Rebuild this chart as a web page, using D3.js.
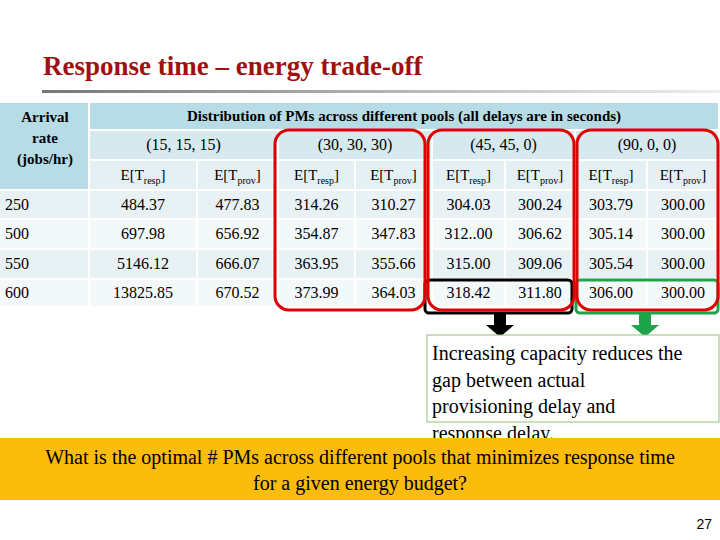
<!DOCTYPE html>
<html><head><meta charset="utf-8">
<script src="https://cdn.jsdelivr.net/npm/d3@7"></script>
<style>body{margin:0;background:#fff}svg{font-family:"Liberation Serif","Times New Roman",serif}</style>
</head><body><div class="svg-container"></div>
<script>
// Data
const arrivalRates = ['250', '500', '550', '600'];
const pools = ['(15, 15, 15)', '(30, 30, 30)', '(45, 45, 0)', '(90, 0, 0)'];
const respValues = [
  ['484.37', '314.26', '304.03', '303.79'],
  ['697.98', '354.87', '312..00', '305.14'],
  ['5146.12', '363.95', '315.00', '305.54'],
  ['13825.85', '373.99', '318.42', '306.00']
];
const provValues = [
  ['477.83', '310.27', '300.24', '300.00'],
  ['656.92', '347.83', '306.62', '300.00'],
  ['666.07', '355.66', '309.06', '300.00'],
  ['670.52', '364.03', '311.80', '300.00']
];

// Layout
const W = 720, H = 540;
const colEdges = [0, 90, 198, 279, 356, 433, 506, 576, 648, 720];
const rowEdges = [103, 131, 161, 191, 220, 250, 280, 308];
const gap = 2;

const svg = d3.select('.svg-container').append('svg')
  .attr('width', W).attr('height', H);

const defs = svg.append('defs');
const grad = defs.append('linearGradient').attr('id', 'tl');
grad.append('stop').attr('offset', '0%').attr('stop-color', '#777');
grad.append('stop').attr('offset', '100%').attr('stop-color', '#eee');

svg.append('text').attr('x', 43).attr('y', 75)
  .attr('font-size', 27).attr('font-weight', 'bold').attr('fill', '#a01010')
  .text('Response time – energy trade-off');
svg.append('rect').attr('x', 42).attr('y', 90).attr('width', 678).attr('height', 3)
  .attr('fill', 'url(#tl)');

const x = i => colEdges[i];
const y = i => rowEdges[i];

function cell(c0, c1, r0, r1, fill) {
  svg.append('rect')
    .attr('x', x(c0)).attr('y', y(r0))
    .attr('width', x(c1) - x(c0) - gap).attr('height', y(r1) - y(r0) - gap)
    .attr('fill', fill);
}
function label(c0, c1, r0, r1, txt, opts = {}) {
  return svg.append('text')
    .attr('x', (x(c0) + x(c1) - gap) / 2)
    .attr('y', (y(r0) + y(r1) - gap) / 2 + 5)
    .attr('text-anchor', 'middle')
    .attr('font-size', opts.size || 15)
    .attr('font-weight', opts.bold ? 'bold' : null)
    .text(txt);
}

// header
cell(0, 1, 0, 3, '#b8dce5');
cell(1, 9, 0, 1, '#b8dce5');
pools.forEach((p, i) => {
  cell(1 + 2 * i, 3 + 2 * i, 1, 2, '#d6e9ee');
  label(1 + 2 * i, 3 + 2 * i, 1, 2, p, {size: 16});
  ['resp', 'prov'].forEach((s, j) => {
    const c = 1 + 2 * i + j;
    cell(c, c + 1, 2, 3, '#e4f0f3');
    const t = label(c, c + 1, 2, 3, 'E[T', {size: 15});
    t.append('tspan').attr('font-size', 10).attr('dy', 4).text(s);
    t.append('tspan').attr('dy', -4).text(']');
  });
});
const hdr = svg.append('text').attr('x', 45).attr('text-anchor', 'middle')
  .attr('font-size', 15).attr('font-weight', 'bold');
['Arrival', 'rate', '(jobs/hr)'].forEach((t, i) =>
  hdr.append('tspan').attr('x', 45).attr('y', 122 + i * 21).text(t));
label(1, 9, 0, 1, 'Distribution of PMs across different pools (all delays are in seconds)', {bold: true});

// body
arrivalRates.forEach((r, ri) => {
  const row = 3 + ri;
  const fill = ri % 2 === 0 ? '#e8f1f4' : '#f3f8f9';
  for (let c = 0; c < 9; c++) cell(c, c + 1, row, row + 1, fill);
  svg.append('text').attr('x', 5).attr('y', (y(row) + y(row + 1)) / 2 + 4)
    .attr('font-size', 16).text(r);
  pools.forEach((p, i) => {
    label(1 + 2 * i, 2 + 2 * i, row, row + 1, respValues[ri][i], {size: 16});
    label(2 + 2 * i, 3 + 2 * i, row, row + 1, provValues[ri][i], {size: 16});
  });
});

// highlight boxes
svg.append('rect').attr('x', 425).attr('y', 280).attr('width', 147).attr('height', 33)
  .attr('rx', 4).attr('fill', 'none').attr('stroke', '#000').attr('stroke-width', 3);
svg.append('rect').attr('x', 576).attr('y', 280).attr('width', 142).attr('height', 33)
  .attr('rx', 4).attr('fill', 'none').attr('stroke', '#1fa34a').attr('stroke-width', 3);
[[275, 425], [428, 574], [577, 718]].forEach(([a, b]) =>
  svg.append('rect').attr('x', a).attr('y', 130).attr('width', b - a).attr('height', 180)
    .attr('rx', 14).attr('fill', 'none').attr('stroke', '#e00000').attr('stroke-width', 3));

// arrows
function arrow(cx, color) {
  svg.append('path')
    .attr('d', `M${cx - 6},314 h12 v11 h8 l-14,12 l-14,-12 h8 z`)
    .attr('fill', color);
}
arrow(500, '#000');
arrow(645, '#1fa34a');

// note
svg.append('rect').attr('x', 427).attr('y', 335).attr('width', 292).attr('height', 87)
  .attr('fill', '#fff').attr('stroke', '#8fc07a');
const note = svg.append('text').attr('font-size', 20);
['Increasing capacity reduces the', 'gap between actual', 'provisioning delay and', 'response delay.']
  .forEach((t, i) => note.append('tspan').attr('x', 432).attr('y', 360 + i * 26.5).text(t));

svg.append('rect').attr('x', 0).attr('y', 438).attr('width', W).attr('height', 62).attr('fill', '#fbbc0b');
const q = svg.append('text').attr('font-size', 20).attr('text-anchor', 'middle');
['What is the optimal # PMs across different pools that minimizes response time', 'for a given energy budget?']
  .forEach((t, i) => q.append('tspan').attr('x', 360).attr('y', 464 + i * 26).text(t));

svg.append('text').attr('x', 712).attr('y', 529).attr('text-anchor', 'end')
  .attr('font-family', 'Liberation Sans, Arial, sans-serif').attr('font-size', 14).text('27');
</script></body></html>
